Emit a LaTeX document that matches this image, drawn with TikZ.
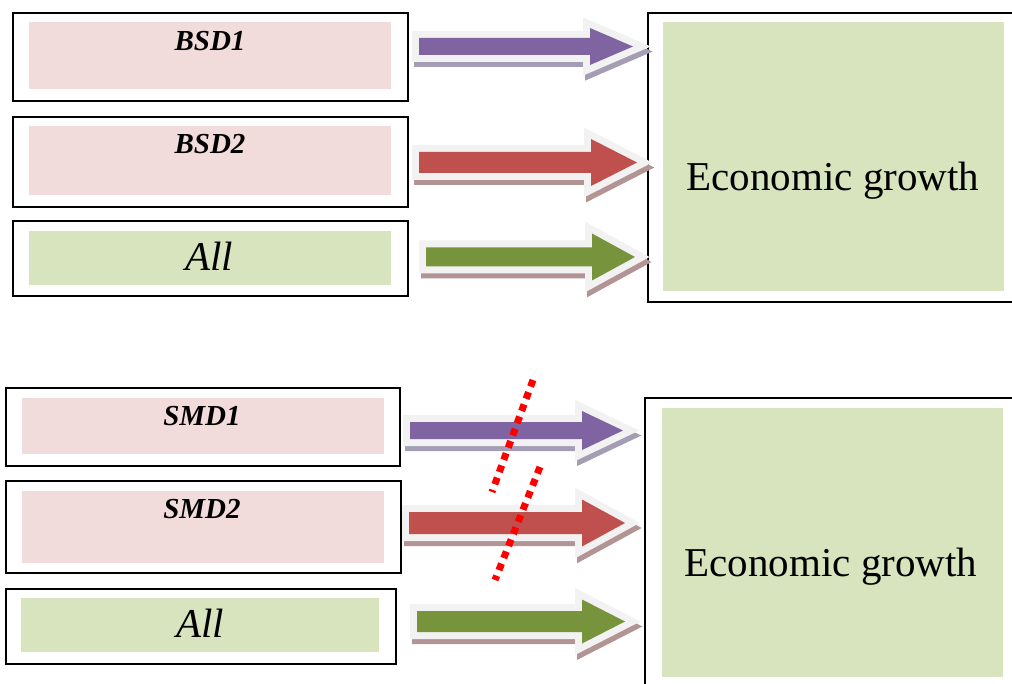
\documentclass[tikz,border=0pt]{standalone}
\usepackage{fontspec}
\setmainfont{Liberation Serif}
\usepackage{tikz}

\definecolor{boxpink}{HTML}{F2DCDB}
\definecolor{boxgreen}{HTML}{D7E4BD}
\definecolor{arrpurple}{HTML}{8064A2}
\definecolor{arrred}{HTML}{C0504D}
\definecolor{arrgreen}{HTML}{77933C}
\definecolor{glowgray}{HTML}{F2F2F2}
\definecolor{shpurple}{HTML}{A59DB3}
\definecolor{shred}{HTML}{B39494}

\tikzset{
    frame/.style={draw=black, line width=2pt, anchor=north west, inner sep=0pt},
    inner/.style={fill=#1, anchor=north west, inner sep=0pt},
    varlabel/.style={anchor=base, font=\fontsize{29}{34}\selectfont\bfseries\itshape},
    alllabel/.style={anchor=base, font=\fontsize{41}{48}\selectfont\itshape},
    growthlabel/.style={anchor=base, font=\fontsize{41}{48}\selectfont},
    cutline/.style={draw=red, line width=7pt, dash pattern=on 7pt off 6pt}
}

% x0, head start, tip, y, shaft half, head half, fill, shadow
\newcommand{\fatarrow}[8]{%
    \path[shift={(2,5)}, fill=#8, draw=#8, line width=14pt]
        (#1,#4-#5) -- (#2,#4-#5) -- (#2,#4-#6) -- (#3,#4) -- (#2,#4+#6) -- (#2,#4+#5) -- (#1,#4+#5) -- cycle;
    \path[fill=glowgray, draw=glowgray, line width=14pt]
        (#1,#4-#5) -- (#2,#4-#5) -- (#2,#4-#6) -- (#3,#4) -- (#2,#4+#6) -- (#2,#4+#5) -- (#1,#4+#5) -- cycle;
    \path[fill=#7]
        (#1,#4-#5) -- (#2,#4-#5) -- (#2,#4-#6) -- (#3,#4) -- (#2,#4+#6) -- (#2,#4+#5) -- (#1,#4+#5) -- cycle;
}

\begin{document}
\begin{tikzpicture}[x=1pt, y=-1pt]
    \clip (0,0) rectangle (1012,684);
    \fill[white] (0,0) rectangle (1012,684);

    % upper block
    \node[frame, minimum width=395pt, minimum height=88pt] (bsd1box) at (12,12) {};
    \node[inner=boxpink, minimum width=362pt, minimum height=67pt] (bsd1) at (29,22) {};
    \node[varlabel] at (210,51) {BSD1};

    \node[frame, minimum width=395pt, minimum height=90pt] (bsd2box) at (12,116) {};
    \node[inner=boxpink, minimum width=362pt, minimum height=69pt] (bsd2) at (29,126) {};
    \node[varlabel] at (210,154) {BSD2};

    \node[frame, minimum width=395pt, minimum height=75pt] (allabox) at (12,220) {};
    \node[inner=boxgreen, minimum width=362pt, minimum height=54pt] (alla) at (29,231) {};
    \node[alllabel] at (209,271) {All};

    \node[frame, minimum width=380pt, minimum height=289pt] (growthabox) at (647,12) {};
    \node[inner=boxgreen, minimum width=341pt, minimum height=269pt] (growtha) at (663,22) {};
    \node[growthlabel] at (833,191) {Economic growth};

    \fatarrow{419}{590}{633}{46.5}{8.5}{18.5}{arrpurple}{shpurple}
    \fatarrow{419}{591}{637}{162.5}{10.5}{23.5}{arrred}{shred}
    \fatarrow{426}{592}{635}{257}{9.5}{23.5}{arrgreen}{shred}

    % lower block
    \node[frame, minimum width=394pt, minimum height=78pt] (smd1box) at (5,387) {};
    \node[inner=boxpink, minimum width=362pt, minimum height=56pt] (smd1) at (22,398) {};
    \node[varlabel] at (202,425) {SMD1};

    \node[frame, minimum width=395pt, minimum height=92pt] (smd2box) at (5,480) {};
    \node[inner=boxpink, minimum width=362pt, minimum height=72pt] (smd2) at (22,491) {};
    \node[varlabel] at (202,518) {SMD2};

    \node[frame, minimum width=390pt, minimum height=75pt] (allbbox) at (5,588) {};
    \node[inner=boxgreen, minimum width=358pt, minimum height=54pt] (allb) at (21,598) {};
    \node[alllabel] at (200,637) {All};

    \node[frame, minimum width=380pt, minimum height=300pt] (growthbbox) at (644,397) {};
    \node[inner=boxgreen, minimum width=341pt, minimum height=269pt] (growthb) at (662,408) {};
    \node[growthlabel] at (831,576) {Economic growth};

    \fatarrow{410}{582}{623}{430.5}{8.5}{19.5}{arrpurple}{shpurple}
    \fatarrow{409}{582}{625}{523}{11}{23.5}{arrred}{shred}
    \fatarrow{417}{582}{625}{621.5}{10.5}{22}{arrgreen}{shred}

    \draw[cutline] (533,380) -- (492,492);
    \draw[cutline] (540,467) -- (495,580);
\end{tikzpicture}
\end{document}
